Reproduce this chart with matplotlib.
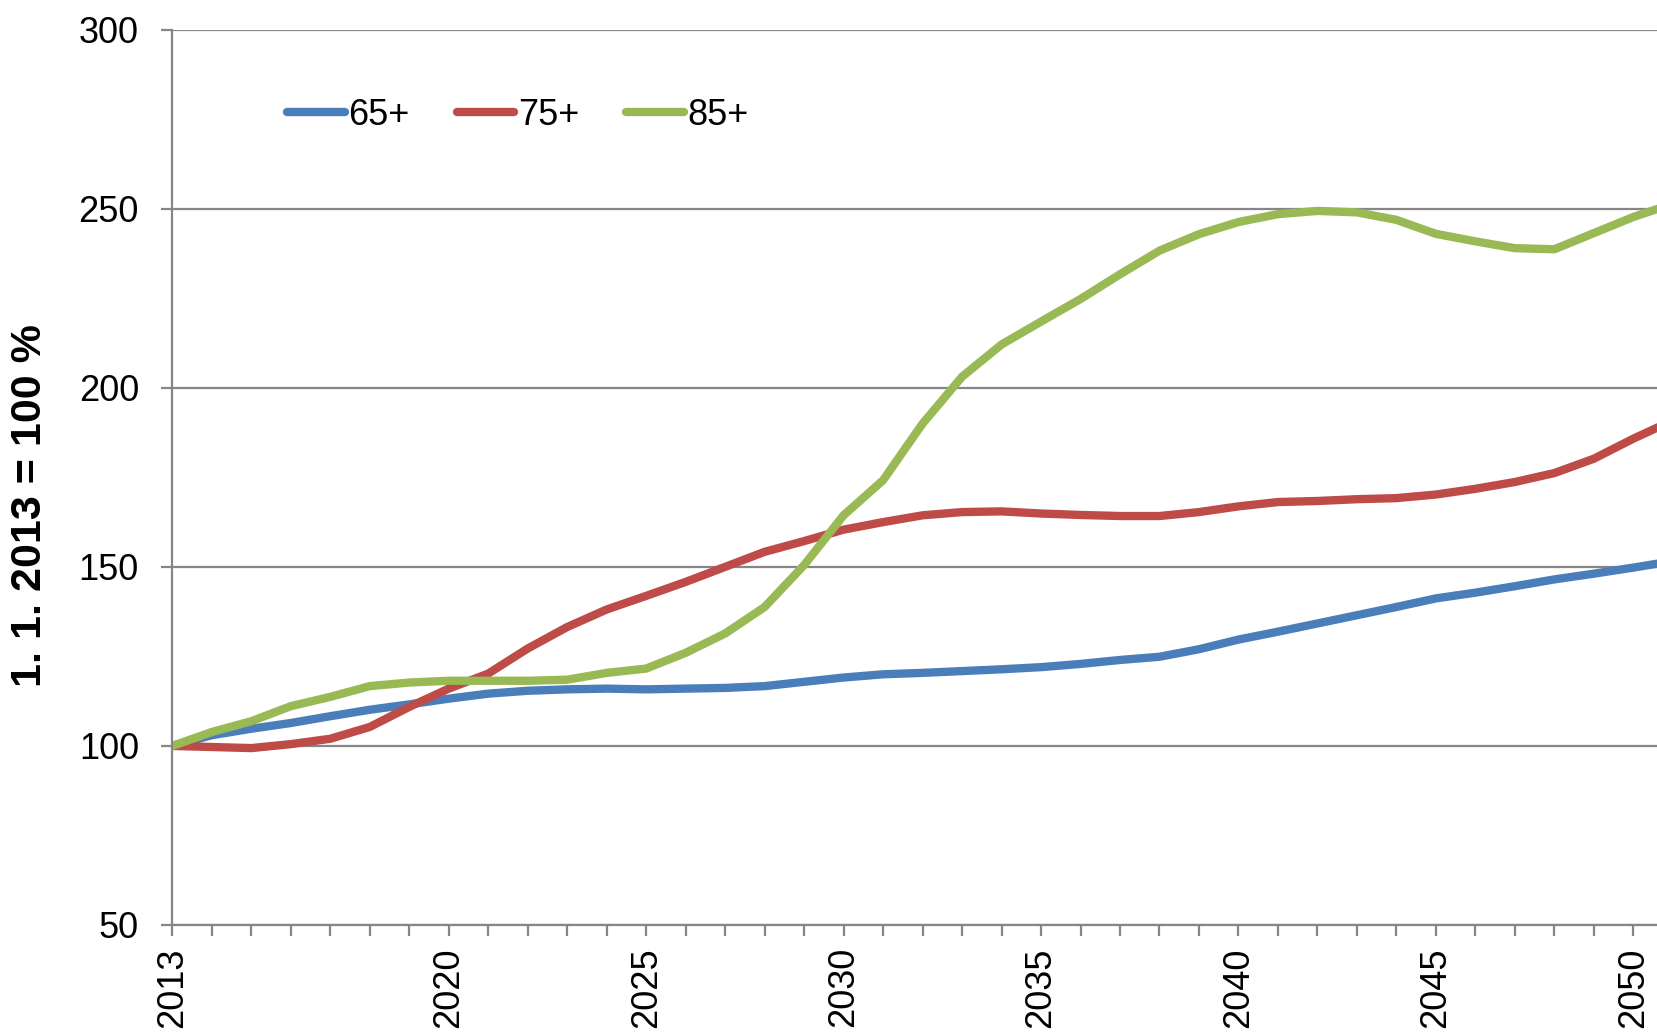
import matplotlib.pyplot as plt
import matplotlib.ticker as mticker

plt.rcParams['font.family'] = ['Liberation Sans', 'DejaVu Sans']

roky = list(range(2013, 2052))

# index, 1. 1. 2013 = 100 %
vek_65 = [100, 103, 104.8, 106.4, 108.3, 110.1, 111.6, 113.2, 114.6, 115.4,
          115.8, 116, 115.8, 116, 116.2, 116.7, 117.9, 119.1, 120, 120.4,
          120.9, 121.4, 122, 122.9, 124, 124.9, 127, 129.7, 131.9, 134.2,
          136.5, 138.8, 141.2, 142.8, 144.6, 146.5, 148.1, 149.8, 151.6]
vek_75 = [100, 99.7, 99.4, 100.5, 102, 105.3, 110.9, 116, 120.2, 127.2,
          133.2, 138.1, 141.9, 145.8, 150, 154.2, 157.2, 160.4, 162.5, 164.4,
          165.3, 165.5, 164.9, 164.5, 164.2, 164.2, 165.3, 166.9, 168.1, 168.4,
          168.9, 169.2, 170.2, 171.8, 173.7, 176.2, 180.2, 185.8, 190.9]
vek_85 = [100, 103.9, 106.9, 111.1, 113.7, 116.7, 117.7, 118.2, 118.2, 118.2,
          118.5, 120.4, 121.6, 126, 131.4, 138.8, 150.5, 164.4, 174.2, 190,
          203.1, 212.1, 218.5, 224.8, 231.7, 238.3, 242.9, 246.3, 248.5, 249.4,
          249, 246.9, 243, 240.9, 239, 238.7, 243.2, 247.7, 251.4]

popisky_let = [2013, 2020, 2025, 2030, 2035, 2040, 2045, 2050, 2055, 2060]

serie = [('65+', vek_65, '#4A7EBB'),
         ('75+', vek_75, '#BE4B48'),
         ('85+', vek_85, '#98B954')]

seda = '#868686'

fig = plt.figure(figsize=(16.57, 10.32), dpi=100)
# graf je v originale oriznuty vpravo, osa pokracuje za okraj obrazku
ax = fig.add_axes([0.104, 0.1037, 1.12, 0.8675])

for nazev, hodnoty, barva in serie:
    ax.plot(roky, hodnoty, color=barva, lw=6, label=nazev,
            solid_joinstyle='round', solid_capstyle='round')

ax.set_xlim(2013, 2060)
ax.set_ylim(50, 300)
ax.set_yticks(range(50, 301, 50))
ax.yaxis.grid(True, color=seda, lw=1.6)
ax.set_axisbelow(True)

ax.xaxis.set_major_locator(mticker.FixedLocator(list(range(2013, 2061))))
ax.set_xticklabels([str(r) if r in popisky_let else '' for r in range(2013, 2061)],
                   rotation=90, va='top')

for s in ['top', 'right']:
    ax.spines[s].set_visible(False)
for s in ['left', 'bottom']:
    ax.spines[s].set_color(seda)
    ax.spines[s].set_linewidth(1.6)

ax.tick_params(axis='both', direction='out', length=8, width=1.6,
               color=seda, labelsize=26)
ax.tick_params(axis='y', pad=16)
ax.tick_params(axis='x', pad=8)

fig.text(0.018, 0.51, '1. 1. 2013 = 100 %', rotation=90, fontsize=31,
         fontweight='bold', ha='center', va='center')

ax.legend(loc='upper left', bbox_to_anchor=(0.054, 0.94), ncol=3,
          frameon=False, fontsize=26, handlelength=1.6, handletextpad=0.1,
          columnspacing=1.3, borderaxespad=0)

fig.savefig('out.png', dpi=100)
